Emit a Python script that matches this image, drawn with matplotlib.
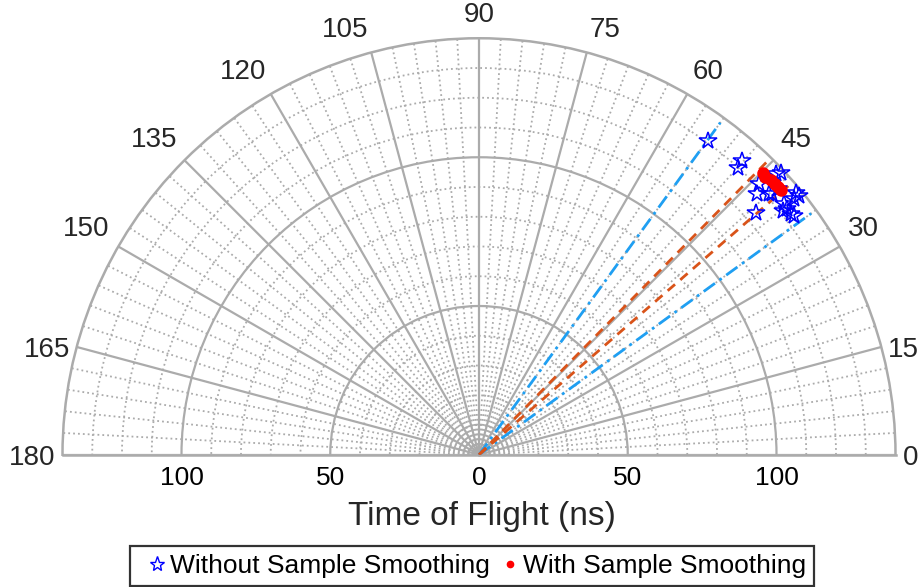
import numpy as np
import matplotlib.pyplot as plt
from matplotlib.lines import Line2D

plt.rcParams['font.family'] = ['Liberation Sans', 'DejaVu Sans']

# angles in degrees, time of flight in ns
raw_theta = [53.9, 48.1, 48.0, 43.05, 43.4, 44.0, 43.1, 41.6, 41.6, 39.6,
             38.9, 39.0, 39.4, 38.5, 38.75, 37.1, 41.2, 41.9, 37.6]
raw_r = [130.5, 132.6, 129.9, 138.9, 137.3, 130.9, 128.2, 134.3, 131.9, 138.2,
         138.4, 136.4, 132.7, 132.5, 130.9, 132.9, 123.6, 131.0, 132.4]

smooth_theta = [44.85, 44.1, 43.2, 42.5, 41.9, 41.2]
smooth_r = [134.5, 134.1, 134.8, 134.8, 135.0, 135.1]

# direction lines (spread of the estimates)
raw_lines = [54.0, 36.0]
smooth_lines = [45.5, 41.0]
line_r = [0, 138]

rticks = [0, 50, 100]
tticks = list(range(0, 181, 15))
rmax = 140

grid_col = '#ababab'
txt_col = '#262626'
blue_line = '#1f9ff2'
orange_line = '#D95319'

fig = plt.figure(figsize=(9.22, 5.87), dpi=100)
# square box; the half disk sits in its middle band
ax = fig.add_axes([62.5 / 922, -76 / 587, 833 / 922, 833 / 587], projection='polar')
ax.set_thetamin(0)
ax.set_thetamax(180)
ax.set_rlim(0, rmax)

ax.set_xticks(np.deg2rad(tticks))
ax.set_xticklabels([])
minor_t = [t for t in range(0, 181, 3) if t % 15]
ax.set_xticks(np.deg2rad(minor_t), minor=True)
ax.set_yticks([50, 100])
ax.set_yticks([r for r in range(10, rmax, 10) if r % 50], minor=True)
ax.set_yticklabels([])
ax.grid(which='major', color=grid_col, lw=1.6, ls='-')
ax.grid(which='minor', color=grid_col, lw=1.3, ls=(0, (1, 1.7)))
ax.tick_params(which='both', length=0)
for s in ax.spines.values():
    s.set_color(grid_col)
    s.set_linewidth(1.8)

for t in raw_lines:
    ax.plot(np.deg2rad([t, t]), line_r, color=blue_line, lw=2, ls=(0, (5, 2, 1, 2)), zorder=3)
for t in smooth_lines:
    ax.plot(np.deg2rad([t, t]), line_r, color=orange_line, lw=2, ls=(0, (3.5, 2.5)), zorder=3)

ax.plot(np.deg2rad(raw_theta), raw_r, ls='none', marker='*', ms=13, mfc='none',
        mec='blue', mew=1.1, clip_on=False, zorder=4)
ax.plot(np.deg2rad(smooth_theta), smooth_r, ls='none', marker='o', ms=8,
        mfc='red', mec='red', clip_on=False, zorder=5)

# angle labels outside the rim, anchored by their near edge
gap = 10
for t in tticks:
    c, s = np.cos(np.deg2rad(t)), np.sin(np.deg2rad(t))
    ha = 'left' if c > 0.1 else ('right' if c < -0.1 else 'center')
    if s > 0.4:
        va, off = 'bottom', (gap * c, gap * s)
    else:
        va, off = 'center', ((gap - 3) * c, -3)
    ax.annotate(str(t), xy=(np.deg2rad(t), rmax), xytext=off,
                textcoords='offset pixels', ha=ha, va=va, fontsize=20,
                color=txt_col, annotation_clip=False)

# radial labels under the baseline, on both sides
for r in rticks:
    for t in ([0] if r == 0 else [0, np.pi]):
        ax.annotate(str(r), xy=(t, r), xytext=(0, -23), textcoords='offset pixels',
                    ha='center', va='center', fontsize=19, color='black',
                    annotation_clip=False)

fig.text(482 / 922, 1 - 517 / 587, 'Time of Flight (ns)', ha='center', va='center',
         fontsize=24, color=txt_col)

handles = [Line2D([], [], ls='none', marker='*', ms=11, mfc='none', mec='blue', mew=1),
           Line2D([], [], ls='none', marker='o', ms=4.5, mfc='red', mec='red')]
leg = fig.legend(handles, ['Without Sample Smoothing', 'With Sample Smoothing'],
                 loc='center', bbox_to_anchor=(472 / 922, 1 - 566 / 587), ncol=2,
                 fontsize=19, frameon=True, fancybox=False, edgecolor='black',
                 handlelength=1.4, handletextpad=-0.2, columnspacing=0.05,
                 borderpad=0.3, borderaxespad=0)
leg.get_frame().set_linewidth(1.6)

fig.savefig('out.png', dpi=100)
